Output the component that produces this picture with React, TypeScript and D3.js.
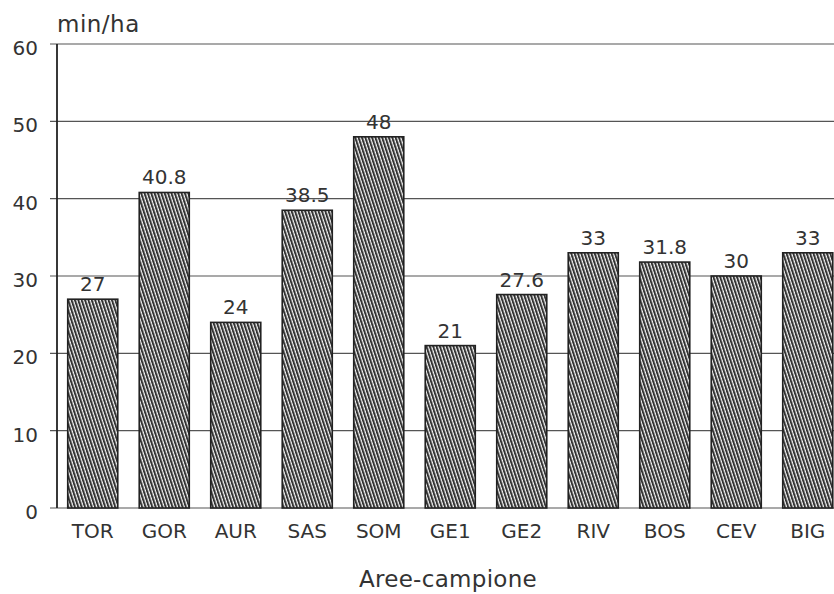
import React, { useEffect, useRef } from 'react';
import * as d3 from 'd3';

const categories = ['TOR', 'GOR', 'AUR', 'SAS', 'SOM', 'GE1', 'GE2', 'RIV', 'BOS', 'CEV', 'BIG'];
const values = [27, 40.8, 24, 38.5, 48, 21, 27.6, 33, 31.8, 30, 33];
const valueLabels = ['27', '40.8', '24', '38.5', '48', '21', '27.6', '33', '31.8', '30', '33'];
const yTicks = [0, 10, 20, 30, 40, 50, 60];

const App: React.FC = () => {
  const svgRef = useRef<SVGSVGElement>(null);

  useEffect(() => {
    if (!svgRef.current) return;
    const svg = d3.select(svgRef.current);
    svg.selectAll('*').remove();

    const width = 834;
    const left = 57;
    const top = 44;
    const bottom = 508;
    const font = "'DejaVu Sans', sans-serif";
    const ink = '#333';

    const x = d3.scaleBand<string>().domain(categories).range([left, left + 11 * 71.5]).paddingInner(0.3).paddingOuter(0.15);
    const y = d3.scaleLinear().domain([0, 60]).range([bottom, top]);

    // hatch pattern
    const defs = svg.append('defs');
    const pat = defs.append('pattern')
      .attr('id', 'hatch')
      .attr('patternUnits', 'userSpaceOnUse')
      .attr('width', 3.2)
      .attr('height', 3.2)
      .attr('patternTransform', 'rotate(-18)');
    pat.append('rect').attr('width', 3.2).attr('height', 3.2).attr('fill', '#f6f6f6');
    pat.append('line').attr('x1', 1).attr('y1', 0).attr('x2', 1).attr('y2', 3.2)
      .attr('stroke', '#333').attr('stroke-width', 2);

    // gridlines + ticks
    yTicks.forEach(t => {
      svg.append('line')
        .attr('x1', left - 7).attr('x2', width)
        .attr('y1', y(t)).attr('y2', y(t))
        .attr('stroke', '#555').attr('stroke-width', 1.2);
      svg.append('text')
        .attr('x', 38).attr('y', y(t) + 11)
        .attr('text-anchor', 'end')
        .attr('font-family', font).attr('font-size', 20)
        .attr('fill', ink)
        .text(t);
    });

    // bars
    svg.selectAll('rect.bar')
      .data(values)
      .enter()
      .append('rect')
      .attr('class', 'bar')
      .attr('x', (_d, i) => x(categories[i])!)
      .attr('y', d => y(d))
      .attr('width', x.bandwidth())
      .attr('height', d => y(0) - y(d))
      .attr('fill', 'url(#hatch)')
      .attr('stroke', '#222')
      .attr('stroke-width', 1.6);

    // value labels
    svg.selectAll('text.val')
      .data(values)
      .enter()
      .append('text')
      .attr('class', 'val')
      .attr('x', (_d, i) => x(categories[i])! + x.bandwidth() / 2)
      .attr('y', d => y(d) - 8)
      .attr('text-anchor', 'middle')
      .attr('font-family', font).attr('font-size', 20)
      .attr('fill', ink)
      .text((_d, i) => valueLabels[i]);

    // y axis
    svg.append('line')
      .attr('x1', left).attr('x2', left)
      .attr('y1', top).attr('y2', bottom)
      .attr('stroke', '#222').attr('stroke-width', 1.8);

    // category labels
    categories.forEach(c => {
      svg.append('text')
        .attr('x', x(c)! + x.bandwidth() / 2)
        .attr('y', 538)
        .attr('text-anchor', 'middle')
        .attr('font-family', font).attr('font-size', 20)
        .attr('fill', ink)
        .text(c);
    });

    svg.append('text')
      .attr('x', 448).attr('y', 587)
      .attr('text-anchor', 'middle')
      .attr('font-family', font).attr('font-size', 23)
      .attr('letter-spacing', 0.3)
      .attr('fill', ink)
      .text('Aree-campione');

    svg.append('text')
      .attr('x', 57).attr('y', 32)
      .attr('font-family', font).attr('font-size', 23)
      .attr('letter-spacing', 0.5)
      .attr('fill', ink)
      .text('min/ha');
  }, []);

  return (
    <svg
      ref={svgRef}
      width={834}
      height={594}
      viewBox="0 0 834 594"
      style={{ position: 'absolute', left: 0, top: 0, background: '#fff' }}
    />
  );
};

export default App;
